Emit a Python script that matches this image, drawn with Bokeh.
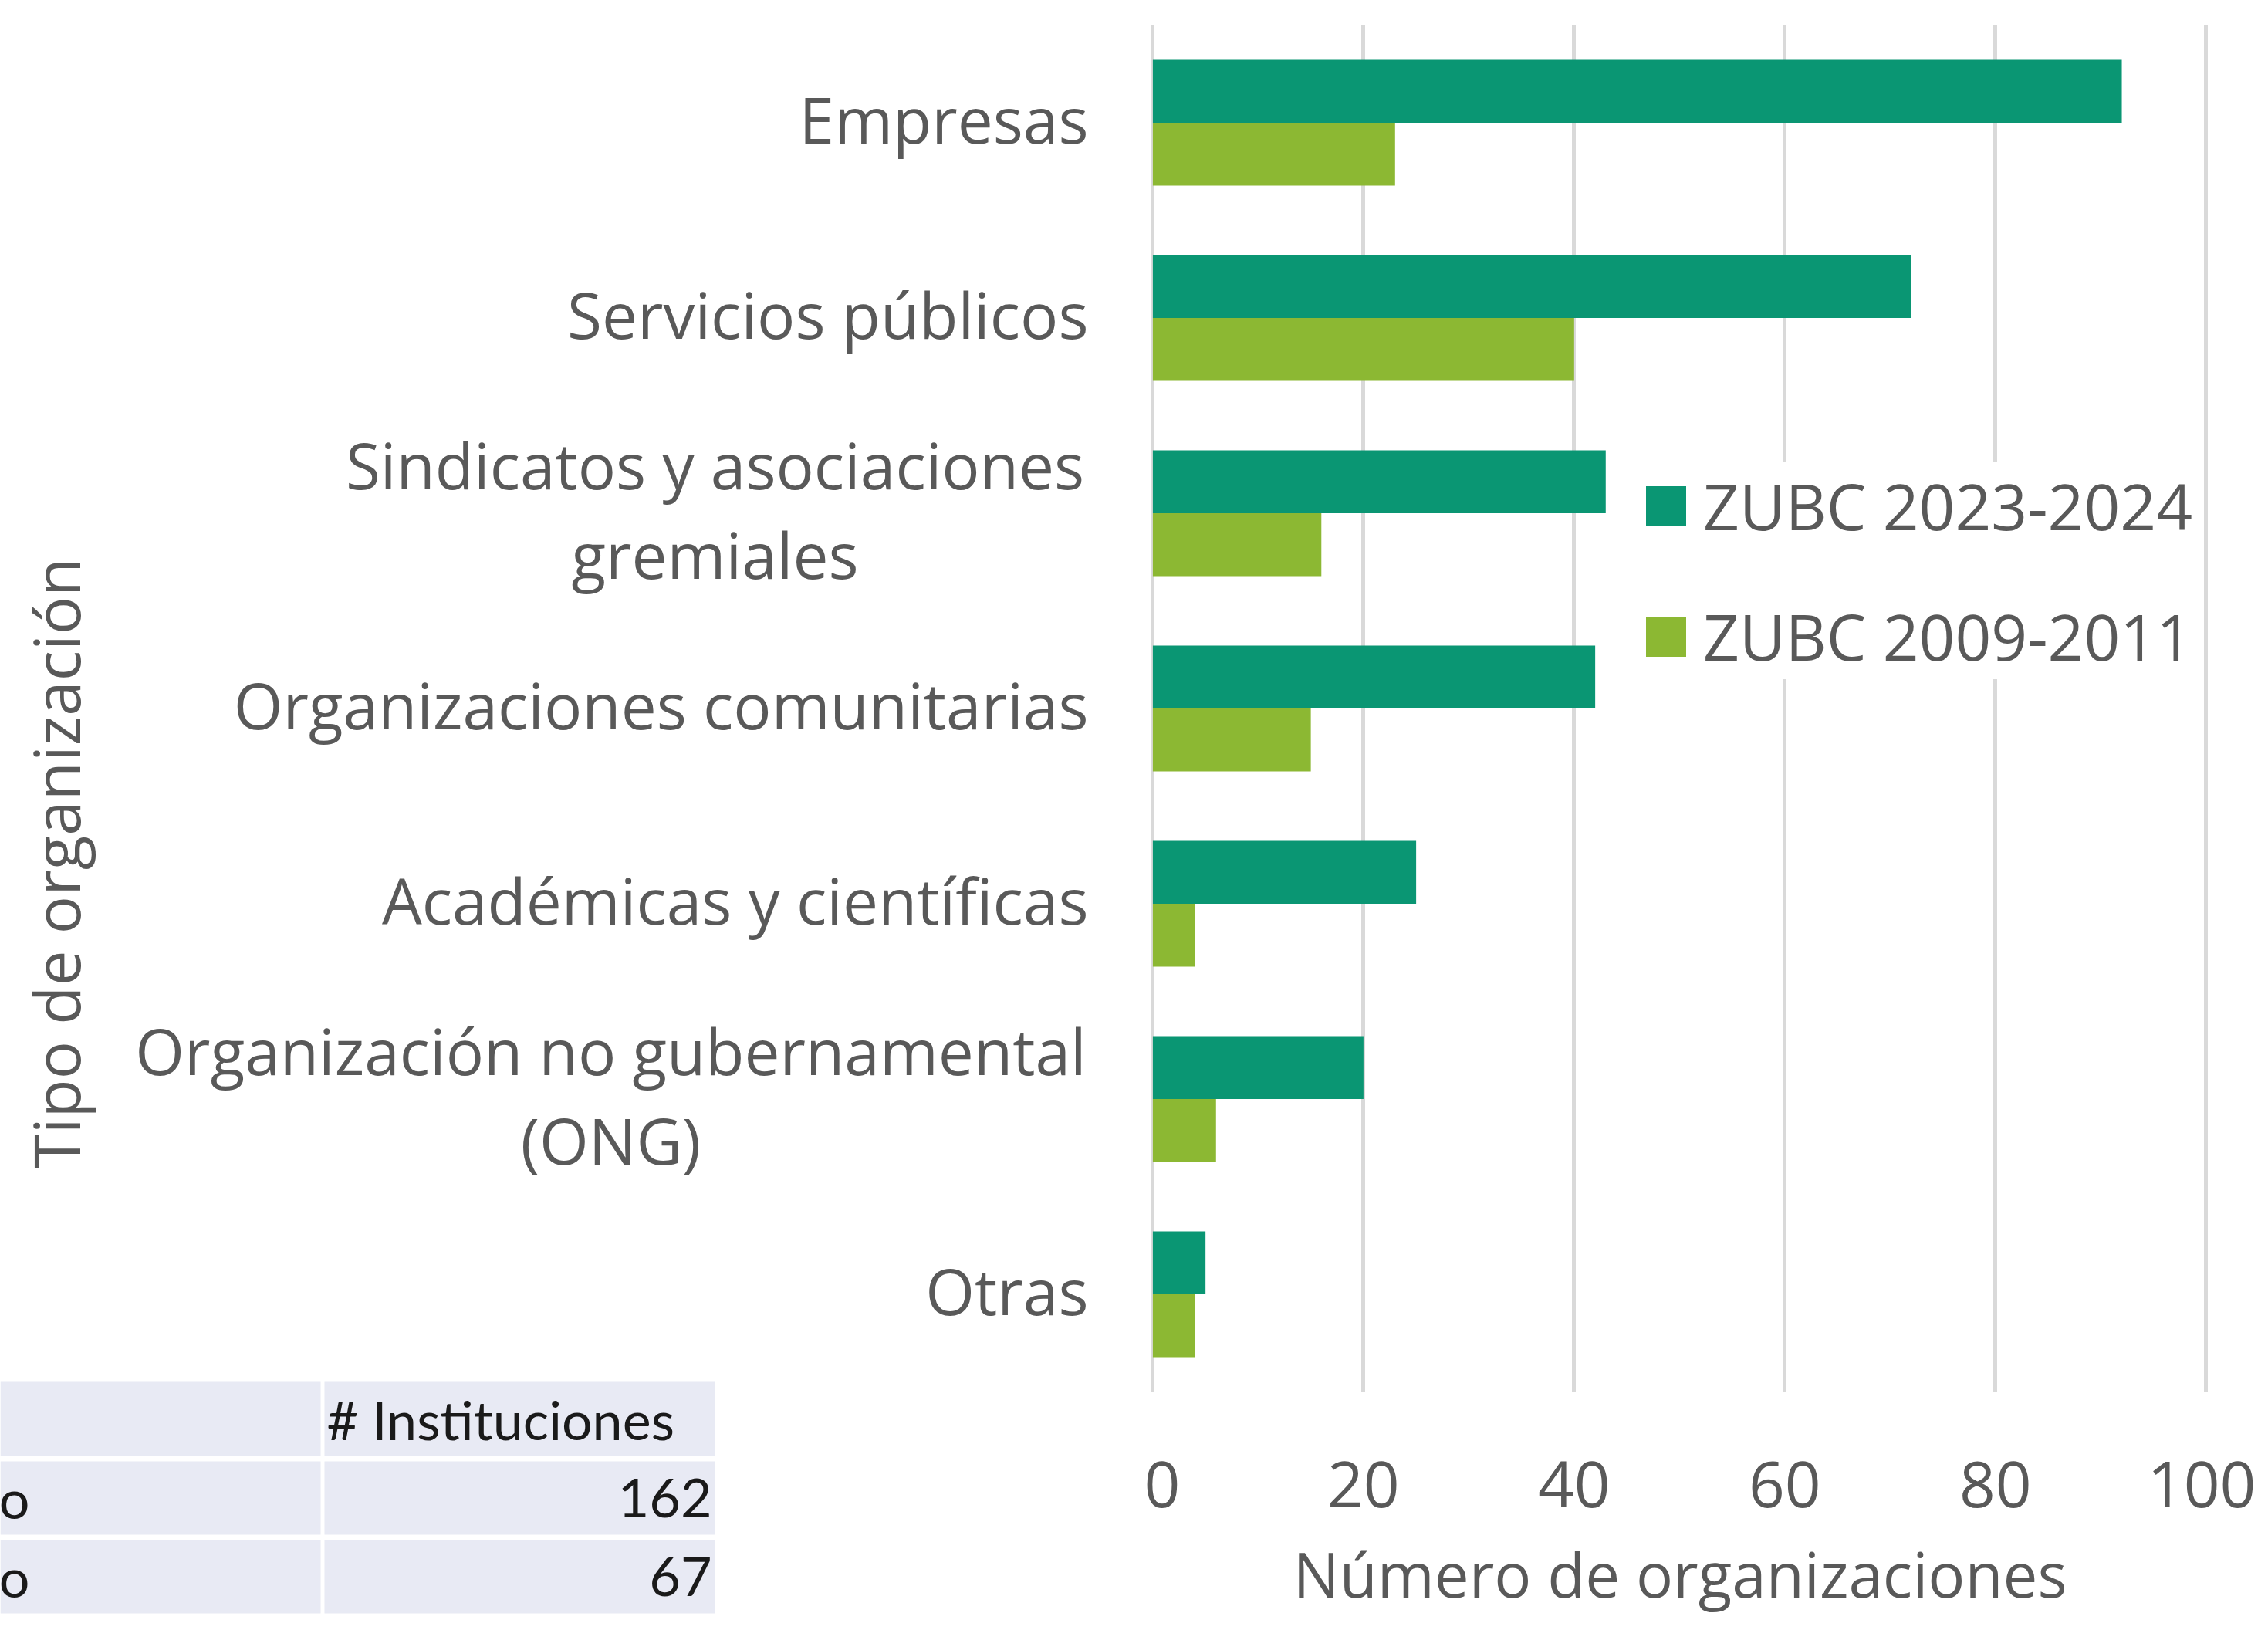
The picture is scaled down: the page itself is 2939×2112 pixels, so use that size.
import math
from bokeh.plotting import figure
from bokeh.layouts import row, column
from bokeh.models import (FixedTicker, Legend, LegendItem, Range1d, ColumnDataSource)
from bokeh.core.properties import value
from bokeh.embed import file_html
from bokeh.resources import INLINE

# ---------------- data ----------------
categories = [
    "Empresas",
    "Servicios públicos",
    "Sindicatos y asociaciones\ngremiales",
    "Organizaciones comunitarias",
    "Académicas y científicas",
    "Organización no gubernamental\n(ONG)",
    "Otras",
]
zubc_2023_2024 = [92, 72, 43, 42, 25, 20, 5]
zubc_2009_2011 = [23, 40, 16, 15, 4, 6, 4]
series_names = ["ZUBC 2023-2024", "ZUBC 2009-2011"]
x_ticks = [0, 20, 40, 60, 80, 100]
x_title = "Número de organizaciones"
y_title = "Tipo de organización"
table_header = "# Instituciones"
table_row_labels = ["o", "o"]
table_values = [162, 67]

# ---------------- layout constants (pixels) ----------------
W, H = 2923, 2096
LEFT_W = 1482            # left panel: category labels, y title, table
MAIN_W = W - LEFT_W
B_LEFT, B_RIGHT, B_TOP = 8, 60, 32
FH = 1771
B_BOTTOM = H - B_TOP - FH
X_START, X_END = -0.25, 100.35
n = len(categories)
PX_Y = FH / n
BAR_H = 0.3225

LABEL_RIGHT = 1410
LABEL_LIFT = 5 / PX_Y
MULTI_CENTER = {2: 926, 5: 791}

DARK = "#0a9673"
LIGHT = "#8cb833"
TXT = "#595959"
FONT = "Open Sans"
CELL = "#e8eaf4"

def dy(cy):
    """canvas y (px from top) -> category data coordinate"""
    return (n - 0.5) - (cy - B_TOP) / PX_Y

pos = [n - 1 - i for i in range(n)]

# ---------------- main chart ----------------
x_range = Range1d(X_START, X_END)
y_range = Range1d(-0.5, n - 0.5)
src = ColumnDataSource(dict(
    y1=[v + BAR_H / 2 for v in pos],
    y2=[v - BAR_H / 2 for v in pos],
    a=zubc_2023_2024,
    b=zubc_2009_2011,
))

fig = figure(width=MAIN_W, height=H, x_range=x_range, y_range=y_range,
             y_axis_type=None, output_backend="svg", toolbar_location=None,
             min_border_left=B_LEFT, min_border_right=B_RIGHT,
             min_border_top=B_TOP, min_border_bottom=B_BOTTOM)
fig.outline_line_color = None

r1 = fig.hbar(y="y1", left=0, right="a", height=BAR_H, source=src,
              fill_color=DARK, line_color=None)
r2 = fig.hbar(y="y2", left=0, right="b", height=BAR_H, source=src,
              fill_color=LIGHT, line_color=None)

fig.ygrid.visible = False
fig.xgrid.ticker = FixedTicker(ticks=x_ticks)
fig.xgrid.grid_line_color = "#d9d9d9"
fig.xgrid.grid_line_width = 5

xa = fig.xaxis[0]
xa.ticker = FixedTicker(ticks=x_ticks)
xa.axis_line_color = None
xa.major_tick_line_color = None
xa.minor_tick_line_color = None
xa.major_tick_out = 0
xa.major_label_text_font = FONT
xa.major_label_text_font_size = "82px"
xa.major_label_text_color = TXT
xa.major_label_standoff = 90
xa.axis_label = x_title
xa.axis_label_text_font = FONT
xa.axis_label_text_font_size = "80px"
xa.axis_label_text_font_style = "normal"
xa.axis_label_text_color = TXT
xa.axis_label_standoff = 28

legend = Legend(items=[LegendItem(label=series_names[0], renderers=[r1]),
                       LegendItem(label=series_names[1], renderers=[r2])],
                location=(636, 923))
legend.glyph_width = 65
legend.glyph_height = 65
legend.label_text_font = FONT
legend.label_text_font_size = "82px"
legend.label_text_color = TXT
legend.label_standoff = 16
legend.spacing = 57
legend.padding = 16
legend.margin = 0
legend.border_line_color = None
legend.background_fill_color = "white"
legend.background_fill_alpha = 1.0
fig.add_layout(legend)

# ---------------- left panel ----------------
lfig = figure(width=LEFT_W, height=H, x_range=Range1d(0, LEFT_W),
              y_range=Range1d(dy(H), dy(0)), x_axis_type=None, y_axis_type=None,
              output_backend="svg", toolbar_location=None, min_border=0)
lfig.outline_line_color = None
lfig.grid.visible = False

single = [i for i in range(n) if i not in MULTI_CENTER]
multi = [i for i in range(n) if i in MULTI_CENTER]
lfig.text(x=[LABEL_RIGHT] * len(single), y=[pos[i] + LABEL_LIFT for i in single],
          text=[categories[i] for i in single], text_align="right",
          text_baseline="middle", text_font=value(FONT),
          text_font_size=value("82px"), text_color=TXT)
lfig.text(x=[MULTI_CENTER[i] for i in multi], y=[pos[i] + LABEL_LIFT for i in multi],
          text=[categories[i] for i in multi], text_align="center",
          text_baseline="middle", text_line_height=1.04, text_font=value(FONT),
          text_font_size=value("82px"), text_color=TXT)

lfig.text(x=[71], y=[dy(1118)], text=[y_title], angle=math.pi / 2,
          text_align="center", text_baseline="middle", text_font=value(FONT),
          text_font_size=value("82px"), text_color=TXT)

# overlaid table fragment (bottom-left)
rows_px = [(1790, 1886), (1893, 1988), (1995, 2090)]
cols_px = [(0, 415), (420, 926)]
ql, qr, qt, qb = [], [], [], []
for (t, b) in rows_px:
    for (l, r) in cols_px:
        ql.append(l); qr.append(r); qt.append(dy(t)); qb.append(dy(b))
lfig.quad(left=ql, right=qr, top=qt, bottom=qb, fill_color=CELL, line_color=None)

TFONT = "Lato"
row_mid = [(t + b) / 2 for (t, b) in rows_px]
lfig.text(x=[423], y=[dy(row_mid[0])], text=[table_header], text_align="left",
          text_baseline="middle", text_font=value(TFONT), text_font_size=value("70px"),
          text_color="#1a1a1a")
lfig.text(x=[922] * len(table_values), y=[dy(m) for m in row_mid[1:]],
          text=[str(v) for v in table_values], text_align="right",
          text_baseline="middle", text_font=value(TFONT), text_font_size=value("70px"),
          text_color="#1a1a1a")
lfig.text(x=[38] * len(table_row_labels), y=[dy(m) for m in row_mid[1:]],
          text=table_row_labels, text_align="right",
          text_baseline="middle", text_font=value(TFONT), text_font_size=value("70px"),
          text_color="#1a1a1a")

p = row(lfig, column(fig, spacing=0), spacing=0)

open("out.html", "w").write(file_html(p, INLINE))
